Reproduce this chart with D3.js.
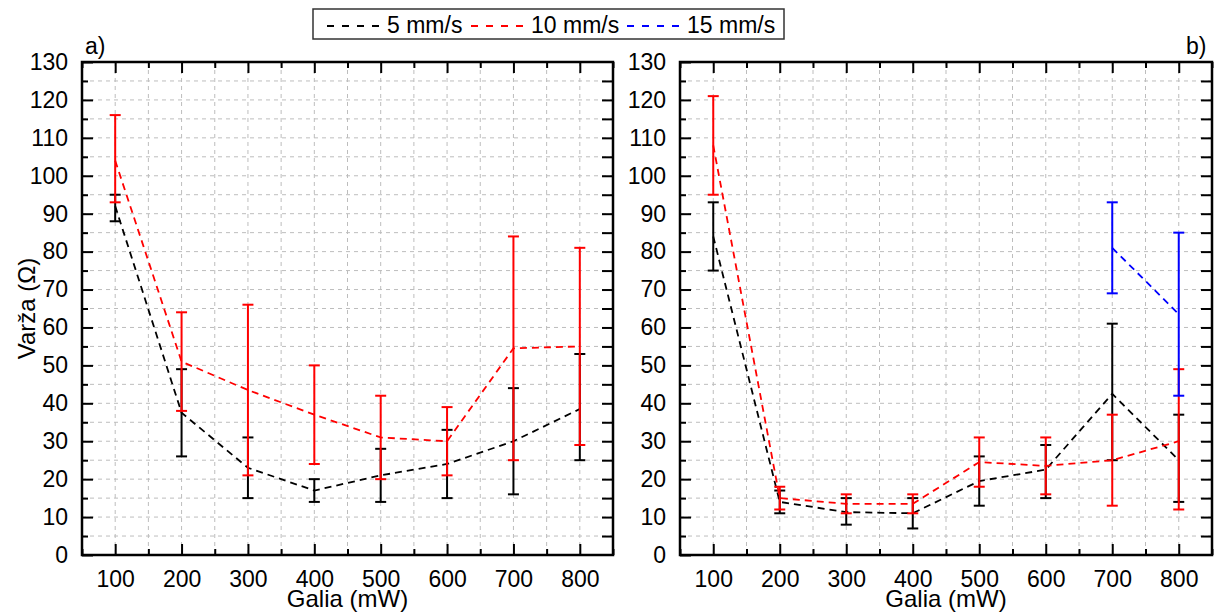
<!DOCTYPE html>
<html>
<head>
<meta charset="utf-8">
<script src="https://cdn.jsdelivr.net/npm/d3@7"></script>
<style>
  body { margin: 0; background: #fff; }
  text { font-family: "Liberation Sans", Arial, sans-serif; }
</style>
</head>
<body>
<div id="chart"></div>
<script>
// power levels (mW)
var power = [100, 200, 300, 400, 500, 600, 700, 800];
var power15 = [700, 800];

// panel a)
var a5_mean = [92, 37.5, 23, 17, 21, 24, 30, 38.5];
var a5_lo   = [88, 26, 15, 14, 14, 15, 16, 25];
var a5_hi   = [95, 49, 31, 20, 28, 33, 44, 53];
var a10_mean = [104, 51, 43.5, 37, 31, 30, 54.5, 55];
var a10_lo   = [93, 38, 21, 24, 20, 21, 25, 29];
var a10_hi   = [116, 64, 66, 50, 42, 39, 84, 81];

// panel b)
var b5_mean = [84, 14, 11.3, 11, 19.5, 22.5, 42.5, 25];
var b5_lo   = [75, 11, 8, 7, 13, 15, 25, 14];
var b5_hi   = [93, 17, 15, 15, 26, 29, 61, 37];
var b10_mean = [108, 15, 13.5, 13.5, 24.5, 23.5, 25, 30];
var b10_lo   = [95, 12, 11, 11, 18, 16, 13, 12];
var b10_hi   = [121, 18, 16, 16, 31, 31, 37, 49];
var b15_mean = [81, 63.5];
var b15_lo   = [69, 42];
var b15_hi   = [93, 85];

var seriesNames = ["5 mm/s", "10 mm/s", "15 mm/s"];
var seriesColors = ["#000000", "#ff0000", "#0000ff"];
var xMajor = [100, 200, 300, 400, 500, 600, 700, 800];
var xMinor = [50, 150, 250, 350, 450, 550, 650, 750, 850];
var yMajor = d3.range(0, 131, 10);
var yMinor = d3.range(5, 130, 10);

var svgWidth = 1219, svgHeight = 614;
var svg = d3.select("#chart").append("svg")
  .attr("width", svgWidth)
  .attr("height", svgHeight);

function pack(xs, mean, lo, hi) {
  return xs.map(function(x, i) { return {x: x, y: mean[i], lo: lo[i], hi: hi[i]}; });
}

var panels = [
  {left: 82, right: 613, label: "a)", labelX: 85, yTitle: true,
   series: [pack(power, a5_mean, a5_lo, a5_hi), pack(power, a10_mean, a10_lo, a10_hi)]},
  {left: 680, right: 1212, label: "b)", labelX: 1186, yTitle: false,
   series: [pack(power, b5_mean, b5_lo, b5_hi), pack(power, b10_mean, b10_lo, b10_hi),
            pack(power15, b15_mean, b15_lo, b15_hi)]}
];

var plotTop = 62, plotBottom = 555;
var y = d3.scaleLinear().domain([0, 130]).range([plotBottom, plotTop]);

panels.forEach(function(p) {
  var x = d3.scaleLinear().domain([50, 850]).range([p.left, p.right]);
  var g = svg.append("g");

  // grid
  var gridX = xMajor.concat(xMinor).filter(function(v) { return v > 50 && v < 850; });
  g.selectAll(".gx").data(gridX).enter().append("line")
    .attr("x1", d => x(d)).attr("x2", d => x(d))
    .attr("y1", plotTop).attr("y2", plotBottom)
    .attr("stroke", "#bdbdbd").attr("stroke-width", 1).attr("stroke-dasharray", "4,4");
  var gridY = d3.range(5, 130, 5);
  g.selectAll(".gy").data(gridY).enter().append("line")
    .attr("x1", p.left).attr("x2", p.right)
    .attr("y1", d => y(d)).attr("y2", d => y(d))
    .attr("stroke", "#bdbdbd").attr("stroke-width", 1).attr("stroke-dasharray", "4,4");

  // axes
  var bottomAxis = d3.axisBottom(x).tickValues(xMajor).tickSizeInner(-11).tickSizeOuter(0).tickPadding(16);
  var bottomMinor = d3.axisBottom(x).tickValues(xMinor).tickSizeInner(-6).tickSizeOuter(0).tickFormat("");
  var topAxis = d3.axisTop(x).tickValues(xMajor).tickSizeInner(-11).tickSizeOuter(0).tickFormat("");
  var topMinor = d3.axisTop(x).tickValues(xMinor).tickSizeInner(-6).tickSizeOuter(0).tickFormat("");
  var leftAxis = d3.axisLeft(y).tickValues(yMajor).tickSizeInner(-11).tickSizeOuter(0).tickPadding(14);
  var leftMinor = d3.axisLeft(y).tickValues(yMinor).tickSizeInner(-6).tickSizeOuter(0).tickFormat("");
  var rightAxis = d3.axisRight(y).tickValues(d3.range(5, 130, 5)).tickSizeInner(-11).tickSizeOuter(0).tickFormat("");

  var axes = [
    [bottomAxis, `translate(0,${plotBottom})`], [bottomMinor, `translate(0,${plotBottom})`],
    [topAxis, `translate(0,${plotTop})`], [topMinor, `translate(0,${plotTop})`],
    [leftAxis, `translate(${p.left},0)`], [leftMinor, `translate(${p.left},0)`],
    [rightAxis, `translate(${p.right},0)`]
  ];
  axes.forEach(function(a) {
    var ag = g.append("g").attr("transform", a[1]).call(a[0]);
    ag.select(".domain").remove();
    ag.selectAll(".tick line").attr("stroke", "#000").attr("stroke-width", 2);
    ag.selectAll(".tick text").attr("font-size", "23px").attr("fill", "#000")
      .attr("font-family", "Liberation Sans, Arial, sans-serif");
  });

  // frame
  g.append("rect")
    .attr("x", p.left).attr("y", plotTop)
    .attr("width", p.right - p.left).attr("height", plotBottom - plotTop)
    .attr("fill", "none").attr("stroke", "#000").attr("stroke-width", 2.5);

  // series
  var line = d3.line().x(d => x(d.x)).y(d => y(d.y));
  p.series.forEach(function(s, i) {
    var col = seriesColors[i];
    var sg = g.append("g");
    sg.append("path").datum(s)
      .attr("d", line)
      .attr("fill", "none").attr("stroke", col)
      .attr("stroke-width", 1.8).attr("stroke-dasharray", "7,5");
    var eb = sg.selectAll(".eb").data(s).enter().append("g");
    eb.append("line")
      .attr("x1", d => x(d.x)).attr("x2", d => x(d.x))
      .attr("y1", d => y(d.lo)).attr("y2", d => y(d.hi))
      .attr("stroke", col).attr("stroke-width", 2);
    eb.append("line")
      .attr("x1", d => x(d.x) - 5.5).attr("x2", d => x(d.x) + 5.5)
      .attr("y1", d => y(d.lo)).attr("y2", d => y(d.lo))
      .attr("stroke", col).attr("stroke-width", 2);
    eb.append("line")
      .attr("x1", d => x(d.x) - 5.5).attr("x2", d => x(d.x) + 5.5)
      .attr("y1", d => y(d.hi)).attr("y2", d => y(d.hi))
      .attr("stroke", col).attr("stroke-width", 2);
  });

  // labels
  g.append("text")
    .attr("x", p.labelX).attr("y", 54)
    .attr("font-size", "23px")
    .text(p.label);

  g.append("text")
    .attr("x", (p.left + p.right) / 2).attr("y", 607)
    .attr("text-anchor", "middle")
    .attr("font-size", "24px")
    .text("Galia (mW)");

  if (p.yTitle) {
    g.append("text")
      .attr("transform", `translate(35, ${(plotTop + plotBottom) / 2}) rotate(-90)`)
      .attr("text-anchor", "middle")
      .attr("font-size", "24px")
      .text("Varža (Ω)");
  }
});

// legend
var legend = svg.append("g");
legend.append("rect")
  .attr("x", 313).attr("y", 9).attr("width", 471).attr("height", 30)
  .attr("fill", "#fff").attr("stroke", "#333").attr("stroke-width", 1.5);
var legX = [327, 471, 627];
seriesNames.forEach(function(name, i) {
  legend.append("line")
    .attr("x1", legX[i]).attr("x2", legX[i] + 54)
    .attr("y1", 26).attr("y2", 26)
    .attr("stroke", seriesColors[i]).attr("stroke-width", 1.8)
    .attr("stroke-dasharray", "7,8");
  legend.append("text")
    .attr("x", legX[i] + 60).attr("y", 33)
    .attr("font-size", "23px")
    .text(name);
});
</script>
</body>
</html>
